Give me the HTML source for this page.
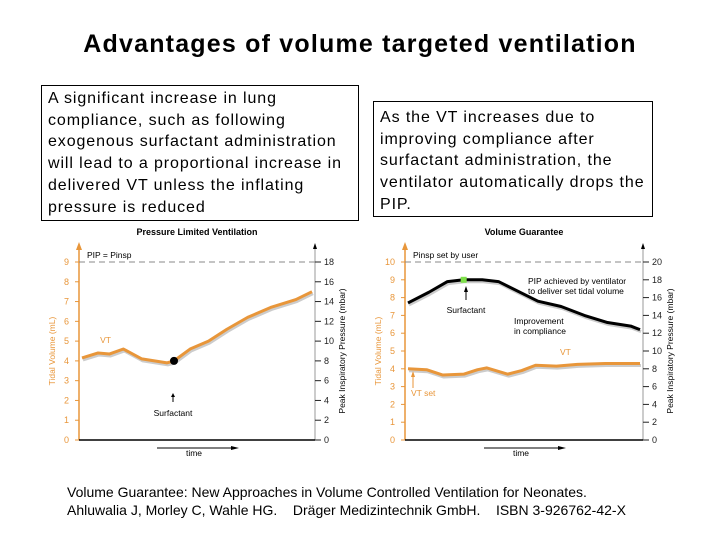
<!DOCTYPE html>
<html><head><meta charset="utf-8"><style>
body{margin:0;width:720px;height:540px;background:#fff;position:relative;overflow:hidden;font-family:"Liberation Sans",Arial,sans-serif}
.t{position:absolute}
.box{position:absolute;border:1px solid #000;font-size:16px;line-height:21.7px;padding:2px 6px;box-sizing:border-box;white-space:nowrap;letter-spacing:0.9px}
</style></head><body>
<div class="t" style="left:0;width:720px;top:30px;text-align:center;font-size:25px;font-weight:bold;letter-spacing:1.2px">Advantages of volume targeted ventilation</div>
<div class="box" style="left:41px;top:85px;width:318px;height:136px">A significant increase in lung<br>compliance, such as following<br>exogenous surfactant administration<br>will lead to a proportional increase in<br>delivered VT unless the inflating<br>pressure is reduced</div>
<div class="box" style="left:373px;top:101px;width:280px;height:116px;padding-top:5px">As the VT increases due to<br>improving compliance after<br>surfactant administration, the<br>ventilator automatically drops the<br>PIP.</div>
<div class="t" style="left:67px;top:483px;font-size:14px;line-height:18px">Volume Guarantee: New Approaches in Volume Controlled Ventilation for Neonates.<br>Ahluwalia J, Morley C, Wahle HG. &nbsp;&nbsp; Dräger Medizintechnik GmbH. &nbsp;&nbsp; ISBN 3-926762-42-X</div>
<svg id="svg" width="720" height="540" style="position:absolute;left:0;top:0"></svg>
<script>
const leftTime=[0,7,12,18,26,37,40,47,55,63,72,82,93,100];
const leftVT=[4.15,4.4,4.35,4.6,4.1,3.9,4.0,4.6,5.0,5.6,6.2,6.7,7.1,7.5];
const rightTime=[0,9,17,24,32,39,56,66,76,86,96,100];
const rightPIP=[7.7,8.3,8.9,9.0,9.0,8.9,7.8,7.5,7.0,6.6,6.4,6.2];
const rightVTTime=[0,8,15,24,30,34,43,49,55,64,73,85,100];
const rightVT=[4.0,3.95,3.65,3.7,3.95,4.05,3.7,3.9,4.2,4.15,4.25,4.3,4.3];
const leftTicks=[0,1,2,3,4,5,6,7,8,9];
const leftRTicks=[0,2,4,6,8,10,12,14,16,18];
const rightTicks=[0,1,2,3,4,5,6,7,8,9,10];
const rightRTicks=[0,2,4,6,8,10,12,14,16,18,20];
const NS='http://www.w3.org/2000/svg',svg=document.getElementById('svg');
function mk(tag,at,txt){const e=document.createElementNS(NS,tag);for(const k in at)e.setAttribute(k,at[k]);if(txt!=null)e.textContent=txt;svg.appendChild(e);return e;}
const OR='#e8963a';
function chart(o){
 const xs=t=>o.x0+3+(o.x1-o.x0-6)*t/100, ys=v=>o.y0-(o.y0-o.yTop)*v/o.vmax;
 let e=mk('text',{x:(o.x0+o.x1)/2,y:o.y0-205,'font-size':9,'font-weight':'bold','text-anchor':'middle'},o.title);
 
 e=mk('line',{x1:o.x0,y1:o.y0,x2:o.x0,y2:o.y0-195,stroke:OR,'stroke-width':1.5});
 
 mk('polygon',{points:`${o.x0-3},${o.y0-190} ${o.x0+3},${o.y0-190} ${o.x0},${o.y0-198}`,fill:OR});
 e=mk('line',{x1:o.x1,y1:o.y0,x2:o.x1,y2:o.y0-195,stroke:'#999','stroke-width':1});
 
 mk('polygon',{points:`${o.x1-2},${o.y0-191} ${o.x1+2},${o.y0-191} ${o.x1},${o.y0-197}`,fill:'#000'});
 e=mk('line',{x1:o.x0,y1:o.y0,x2:o.x1,y2:o.y0,stroke:'#000','stroke-width':1.5});
 
 o.lt.forEach(v=>{e=mk('text',{x:o.x0-10,y:ys(v)+3,'font-size':9,fill:OR,'text-anchor':'end'},v);
  
  mk('line',{x1:o.x0-4,y1:ys(v),x2:o.x0,y2:ys(v),stroke:OR});});
 o.rt.forEach(v=>{const y=ys(v*o.vmax/o.rmax);e=mk('text',{x:o.x1+9,y:y+3,'font-size':9,fill:'#222'},v);
  
  mk('line',{x1:o.x1,y1:y,x2:o.x1+6,y2:y,stroke:'#222'});});
 e=mk('line',{x1:o.x0,y1:ys(o.dash),x2:o.x1,y2:ys(o.dash),stroke:'#888','stroke-dasharray':'6,4'});
 
 e=mk('text',{x:o.x0+8,y:ys(o.dash)-4,'font-size':8.5},o.dashLabel);
 
 e=mk('text',{transform:`translate(${o.x0-24},${(o.y0+o.yTop)/2}) rotate(-90)`,'font-size':8.5,fill:OR,'text-anchor':'middle'},'Tidal Volume (mL)');
 
 e=mk('text',{transform:`translate(${o.x1+30},${(o.y0+o.yTop)/2}) rotate(-90)`,'font-size':8.5,'text-anchor':'middle'},'Peak Inspiratory Pressure (mbar)');
 
 const mx=(o.x0+o.x1)/2;
 mk('line',{x1:mx-40,y1:o.y0+8,x2:mx+40,y2:o.y0+8,stroke:'#000'});
 mk('polygon',{points:`${mx+34},${o.y0+6} ${mx+42},${o.y0+8} ${mx+34},${o.y0+10}`,fill:'#000'});
 e=mk('text',{x:mx-3,y:o.y0+16,'font-size':8.5,'text-anchor':'middle'},'time');
 
 return {xs,ys};
}
function line(s,T,V,col,name){
 const p=T.map((t,i)=>s.xs(t)+','+s.ys(V[i])).join(' ');
 mk('polyline',{points:T.map((t,i)=>(s.xs(t)+1)+','+(s.ys(V[i])+2)).join(' '),fill:'none',stroke:'#ccc','stroke-width':3,'stroke-linejoin':'round'});
 const e=mk('polyline',{points:p,fill:'none',stroke:col,'stroke-width':3,'stroke-linejoin':'round'});
 
}
const L=chart({x0:79,x1:315,y0:440,yTop:262,vmax:9,rmax:18,lt:leftTicks,rt:leftRTicks,dash:9,dashLabel:'PIP = Pinsp',title:'Pressure Limited Ventilation'});
line(L,leftTime,leftVT,OR,'vt-line');
let d=mk('circle',{cx:L.xs(leftTime[6]),cy:L.ys(leftVT[6]),r:4,fill:'#000'});

mk('text',{x:L.xs(leftTime[1])+2,y:L.ys(5)+2,'font-size':8.5,fill:OR},'VT');
mk('line',{x1:173,y1:402,x2:173,y2:395,stroke:'#000'});
mk('polygon',{points:'171,397 175,397 173,393',fill:'#000'});
mk('text',{x:173,y:416,'font-size':8.5,'text-anchor':'middle'},'Surfactant');
const R=chart({x0:405,x1:643,y0:440,yTop:262,vmax:10,rmax:20,lt:rightTicks,rt:rightRTicks,dash:10,dashLabel:'Pinsp set by user',title:'Volume Guarantee'});
line(R,rightTime,rightPIP,'#000','pip-line');
line(R,rightVTTime,rightVT,OR,'vt-line');
d=mk('rect',{x:R.xs(rightTime[3])-3,y:R.ys(rightPIP[3])-3,width:6,height:6,fill:'#7ee04a'});

mk('line',{x1:466,y1:300,x2:466,y2:290,stroke:'#000'});
mk('polygon',{points:'464,292 468,292 466,286',fill:'#000'});
mk('text',{x:466,y:313,'font-size':8.5,'text-anchor':'middle'},'Surfactant');
mk('text',{x:528,y:284,'font-size':8.5},'PIP achieved by ventilator');
mk('text',{x:528,y:294,'font-size':8.5},'to deliver set tidal volume');
mk('text',{x:514,y:324,'font-size':8.5},'Improvement');
mk('text',{x:514,y:334,'font-size':8.5},'in compliance');
mk('text',{x:560,y:355,'font-size':8.5,fill:OR},'VT');
mk('line',{x1:413,y1:388,x2:413,y2:374,stroke:OR});
mk('polygon',{points:'411,377 415,377 413,371',fill:OR});
mk('text',{x:411,y:396,'font-size':8.5,fill:OR},'VT set');
</script>
</body></html>
